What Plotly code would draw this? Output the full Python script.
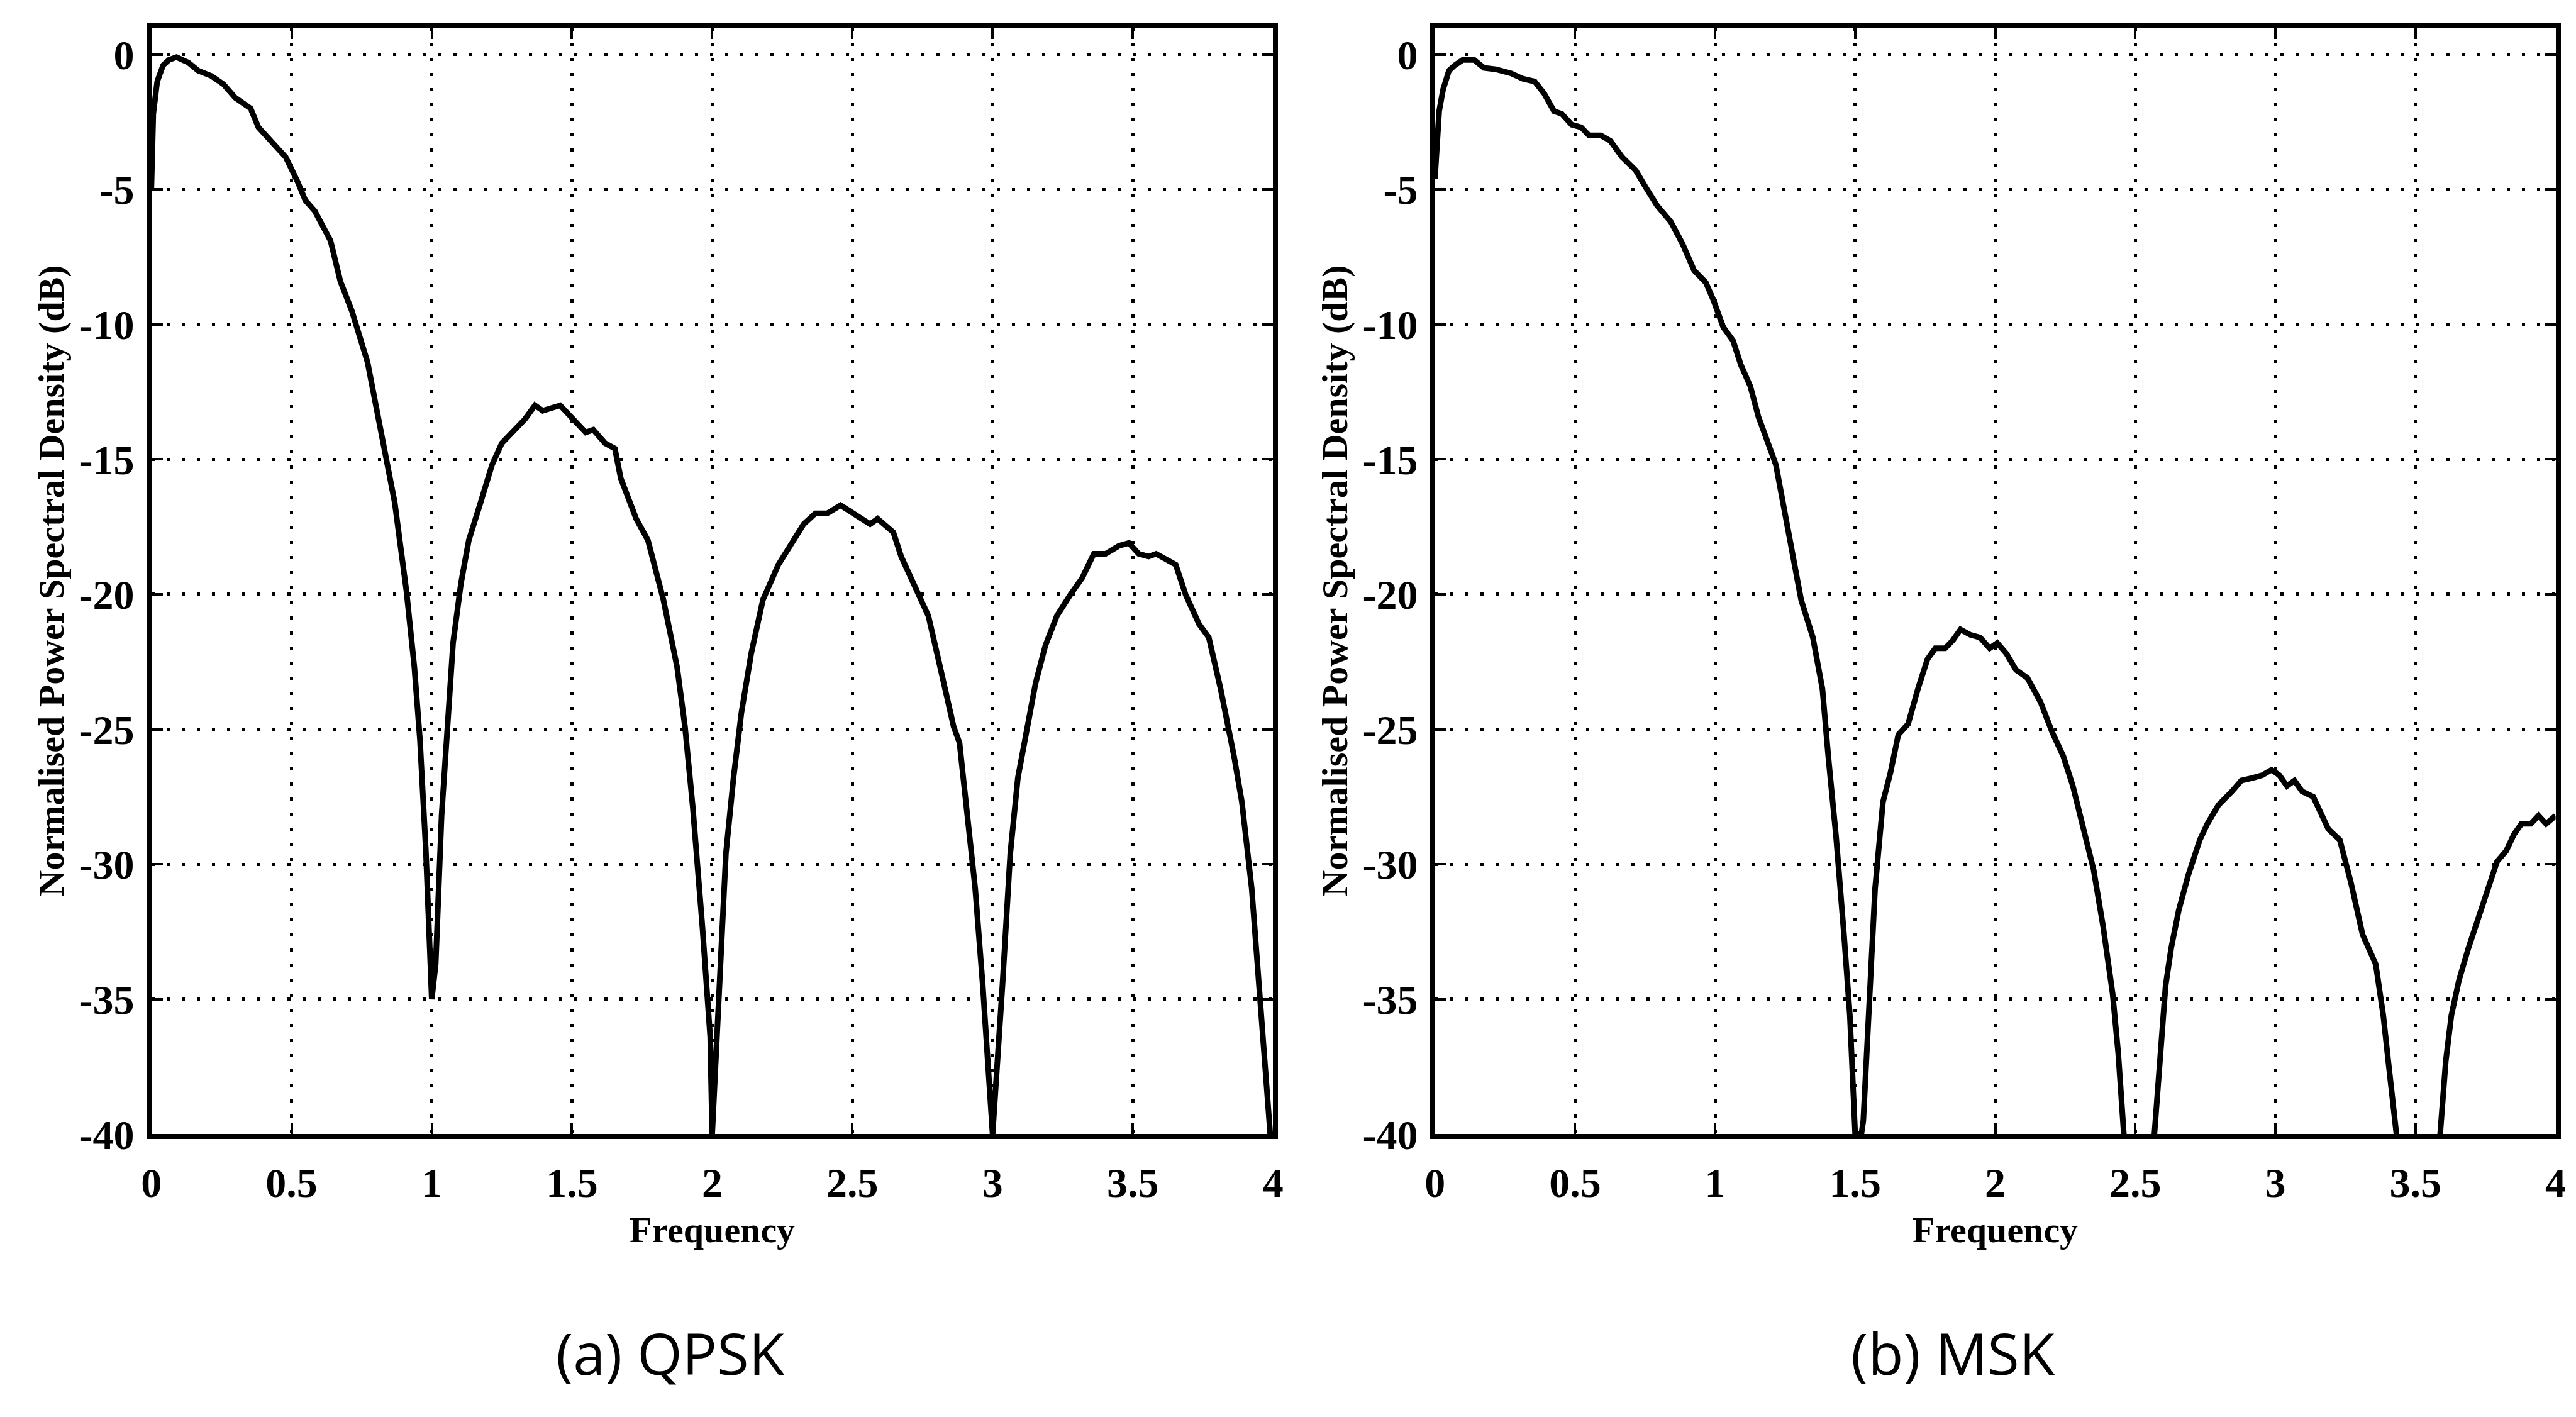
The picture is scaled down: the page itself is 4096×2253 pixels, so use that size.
import plotly.graph_objects as go

# ---- data: normalised PSD (dB) versus frequency ----
qpsk_freq = [0.000, 0.007, 0.021, 0.042, 0.063, 0.090, 0.132, 0.167, 0.215, 0.257,
             0.299, 0.354, 0.382, 0.438, 0.479, 0.521, 0.549, 0.583, 0.639, 0.674,
             0.715, 0.771, 0.792, 0.826, 0.868, 0.910, 0.938, 0.958, 0.979, 1.000,
             1.014, 1.035, 1.056, 1.076, 1.104, 1.132, 1.174, 1.215, 1.250, 1.299,
             1.333, 1.368, 1.396, 1.458, 1.507, 1.549, 1.576, 1.618, 1.653, 1.674,
             1.729, 1.771, 1.826, 1.875, 1.903, 1.931, 1.965, 1.993, 2.000,
             2.028, 2.049, 2.076, 2.104, 2.139, 2.181, 2.236, 2.285, 2.326, 2.368,
             2.410, 2.458, 2.507, 2.563, 2.590, 2.646, 2.674, 2.722, 2.771, 2.813,
             2.861, 2.882, 2.910, 2.938, 2.965, 2.993, 3.000,
             3.035, 3.063, 3.090, 3.118, 3.153, 3.188, 3.229, 3.278, 3.319, 3.361,
             3.403, 3.451, 3.486, 3.521, 3.556, 3.583, 3.618, 3.653, 3.688, 3.736,
             3.771, 3.813, 3.861, 3.889, 3.924, 3.951, 3.990]
qpsk_psd = [-5.0, -2.2, -1.0, -0.4, -0.2, -0.1, -0.3, -0.6, -0.8, -1.1,
            -1.6, -2.0, -2.7, -3.3, -3.8, -4.7, -5.4, -5.8, -6.9, -8.4,
            -9.5, -11.4, -12.5, -14.4, -16.6, -19.9, -22.7, -25.4, -29.5, -35.0,
            -33.7, -28.2, -24.6, -21.8, -19.6, -18.0, -16.6, -15.2, -14.4, -13.9,
            -13.5, -13.0, -13.2, -13.0, -13.5, -14.0, -13.9, -14.4, -14.6, -15.7,
            -17.2, -18.0, -20.2, -22.7, -24.9, -27.9, -32.3, -36.4, -40.0,
            -33.7, -29.6, -26.8, -24.4, -22.2, -20.2, -18.9, -18.1, -17.4, -17.0,
            -17.0, -16.7, -17.0, -17.4, -17.2, -17.7, -18.6, -19.7, -20.8, -22.7,
            -24.9, -25.5, -28.2, -30.9, -34.5, -39.5, -40.0,
            -34.5, -29.6, -26.8, -25.2, -23.3, -21.9, -20.8, -20.0, -19.4, -18.5,
            -18.5, -18.2, -18.1, -18.5, -18.6, -18.5, -18.7, -18.9, -20.0, -21.1,
            -21.6, -23.5, -26.0, -27.7, -30.9, -34.5, -40.0]

msk_freq = [0.000, 0.015, 0.029, 0.050, 0.071, 0.099, 0.140, 0.175, 0.217, 0.272,
            0.314, 0.356, 0.390, 0.425, 0.453, 0.488, 0.522, 0.550, 0.592, 0.626,
            0.668, 0.717, 0.751, 0.793, 0.842, 0.883, 0.925, 0.967, 0.994, 1.029,
            1.064, 1.092, 1.126, 1.154, 1.182, 1.217, 1.244, 1.272, 1.307, 1.349,
            1.383, 1.404, 1.432, 1.460, 1.481, 1.500,
            1.522, 1.529, 1.550, 1.571, 1.599, 1.626, 1.654, 1.689, 1.724, 1.758,
            1.786, 1.821, 1.849, 1.876, 1.911, 1.946, 1.980, 2.007, 2.040, 2.074,
            2.115, 2.162, 2.203, 2.243, 2.277, 2.318, 2.351, 2.385, 2.419, 2.439,
            2.459, 2.510,
            2.568, 2.588, 2.608, 2.628, 2.655, 2.689, 2.730, 2.757, 2.797, 2.845,
            2.878, 2.919, 2.953, 2.986, 3.014, 3.041, 3.068, 3.095, 3.135, 3.189,
            3.230, 3.270, 3.311, 3.358, 3.385, 3.405, 3.432, 3.510,
            3.588, 3.608, 3.628, 3.655, 3.689, 3.730, 3.764, 3.791, 3.824, 3.851,
            3.878, 3.912, 3.939, 3.966, 4.000]
msk_psd = [-4.6, -2.1, -1.3, -0.6, -0.4, -0.2, -0.2, -0.5, -0.55, -0.7,
           -0.9, -1.0, -1.45, -2.1, -2.2, -2.6, -2.7, -3.0, -3.0, -3.2,
           -3.8, -4.3, -4.9, -5.6, -6.2, -7.0, -8.0, -8.45, -9.1, -10.1,
           -10.6, -11.5, -12.3, -13.4, -14.2, -15.2, -16.7, -18.3, -20.2, -21.6,
           -23.5, -26.0, -29.0, -32.6, -35.6, -40.0,
           -40.0, -39.5, -35.1, -30.9, -27.7, -26.6, -25.2, -24.8, -23.5, -22.4,
           -22.0, -22.0, -21.7, -21.3, -21.5, -21.6, -22.0, -21.8, -22.2, -22.8,
           -23.1, -24.0, -25.1, -26.0, -27.1, -28.8, -30.2, -32.3, -34.8, -37.0,
           -40.0, None,
           -40.0, -37.0, -34.5, -33.1, -31.7, -30.4, -29.1, -28.5, -27.8, -27.3,
           -26.9, -26.8, -26.7, -26.5, -26.7, -27.1, -26.9, -27.3, -27.5, -28.7,
           -29.1, -30.7, -32.6, -33.7, -35.6, -37.5, -40.0, None,
           -40.0, -37.3, -35.6, -34.3, -33.1, -31.8, -30.7, -29.9, -29.5, -28.9,
           -28.5, -28.5, -28.2, -28.5, -28.2]

x_ticks = [0, 0.5, 1, 1.5, 2, 2.5, 3, 3.5, 4]
x_tick_text = ["0", "0.5", "1", "1.5", "2", "2.5", "3", "3.5", "4"]
y_ticks = [0, -5, -10, -15, -20, -25, -30, -35, -40]
y_tick_text = ["0", "-5", "-10", "-15", "-20", "-25", "-30", "-35", "-40"]

x_label = "Frequency"
y_label = "Normalised Power Spectral Density (dB)"
captions = ["(a) QPSK", "(b) MSK"]

# ---- page geometry (pixels) ----
W, H = 4096, 2253
panels = [(225.5, 2024.0), (2283.6, 4080.4)]   # left/right edges of each plot box
top_px, bot_px = 44.4, 1833.5

serif = "Liberation Serif"
tick_font = dict(family=serif, size=66, color="black", weight="bold")
label_font = dict(family=serif, size=58, color="black", weight="bold")
caption_font = dict(family="Open Sans", size=92, color="black")

fig = go.Figure()
series = [(qpsk_freq, qpsk_psd), (msk_freq, msk_psd)]
for i, (fx, fy) in enumerate(series):
    sfx = "" if i == 0 else "2"
    fig.add_trace(go.Scatter(
        x=fx, y=fy, mode="lines",
        line=dict(color="black", width=9),
        xaxis="x" + sfx, yaxis="y" + sfx,
        showlegend=False, hoverinfo="skip",
    ))

ydom = [1 - bot_px / H, 1 - top_px / H]
axis_common = dict(
    showline=True, linecolor="black", linewidth=8, mirror="ticks",
    ticks="inside", ticklen=18, tickwidth=4, tickcolor="black",
    showgrid=True, gridcolor="black", gridwidth=5, griddash="5px,19px",
    zeroline=False, tickfont=tick_font,
)
layout = dict(
    width=W, height=H,
    margin=dict(l=0, r=0, t=0, b=0),
    paper_bgcolor="white", plot_bgcolor="white",
    showlegend=False,
)
for i, (x0, x1) in enumerate(panels):
    sfx = "" if i == 0 else str(i + 1)
    layout["xaxis" + sfx] = dict(
        axis_common, domain=[x0 / W, x1 / W], range=[0, 4],
        tickvals=x_ticks, ticktext=x_tick_text, anchor="y" + sfx,
        ticklabelstandoff=12,
    )
    layout["yaxis" + sfx] = dict(
        axis_common, domain=ydom, range=[-40, 1],
        tickvals=y_ticks, ticktext=y_tick_text, anchor="x" + sfx,
        ticklabelstandoff=6,
    )
fig.update_layout(**layout)

annotations = []
for i, (x0, x1) in enumerate(panels):
    xc = (x0 + x1) / 2
    # x-axis title
    annotations.append(dict(
        text=x_label, x=xc / W, y=1 - 1988 / H, xref="paper", yref="paper",
        xanchor="center", yanchor="middle", showarrow=False, font=label_font,
    ))
    # y-axis title
    annotations.append(dict(
        text=y_label, x=(x0 - 160) / W, y=1 - (top_px + bot_px) / 2 / H,
        xref="paper", yref="paper", textangle=-90,
        xanchor="center", yanchor="middle", showarrow=False, font=label_font,
    ))
cap_x = [1058, 3114]
for cx, txt in zip(cap_x, captions):
    annotations.append(dict(
        text=txt, x=cx / W, y=1 - 2186 / H, xref="paper", yref="paper",
        xanchor="center", yanchor="middle", showarrow=False, font=caption_font,
    ))
fig.update_layout(annotations=annotations)

fig.write_html("out.html")
